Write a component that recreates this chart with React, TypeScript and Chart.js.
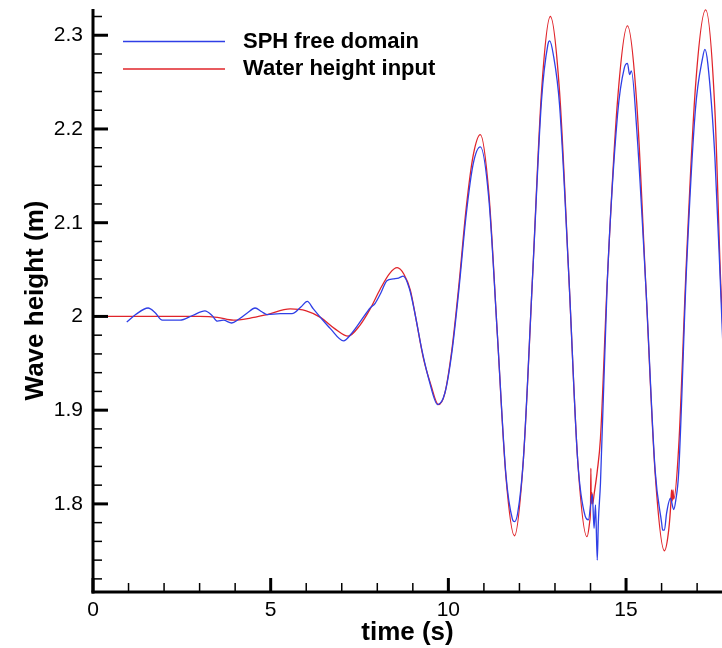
import { useEffect, useRef } from "react";
import { Chart, registerables } from "chart.js";

Chart.register(...registerables);

// ---------- data ----------
const timeInput = [0, 1, 2, 3, 3.5, 3.95, 4.4, 4.9, 5.55, 6.0, 6.4, 6.8, 7.18, 7.5, 7.8, 8.08, 8.35, 8.56, 8.75, 8.93, 9.1, 9.3, 9.5, 9.72, 9.9, 10.1, 10.3, 10.5, 10.7, 10.9, 11.14, 11.38, 11.62, 11.86, 12.11, 12.37, 12.62, 12.87, 13.13, 13.39, 13.64, 13.9, 13.98, 14.0, 14.01, 14.02, 14.04, 14.06, 14.1, 14.19, 14.28, 14.47, 14.76, 15.04, 15.3, 15.56, 15.82, 16.08, 16.2, 16.26, 16.28, 16.3, 16.32, 16.34, 16.48, 16.7, 16.95, 17.24, 17.5, 17.66, 17.8];
const waterInput = [2.0, 2.0, 2.0, 2.0, 1.999, 1.996, 1.998, 2.002, 2.008, 2.006, 1.999, 1.987, 1.979, 1.99, 2.008, 2.029, 2.046, 2.052, 2.045, 2.028, 1.995, 1.955, 1.928, 1.906, 1.918, 1.965, 2.035, 2.115, 2.172, 2.194, 2.131, 1.98, 1.829, 1.766, 1.847, 2.043, 2.239, 2.32, 2.239, 2.043, 1.846, 1.765, 1.782, 1.795, 1.838, 1.8, 1.812, 1.8, 1.81, 1.835, 1.87, 2.037, 2.23, 2.31, 2.228, 2.03, 1.832, 1.75, 1.772, 1.8, 1.815, 1.803, 1.815, 1.805, 1.86, 2.06, 2.243, 2.327, 2.22, 2.04, 1.93];

const timeSph = [0.95, 1.2, 1.55, 1.75, 1.95, 2.2, 2.45, 2.8, 3.15, 3.35, 3.5, 3.67, 3.9, 4.1, 4.35, 4.56, 4.75, 4.9, 5.27, 5.6, 5.85, 6.03, 6.2, 6.4, 6.68, 7.05, 7.3, 7.55, 7.8, 7.94, 8.1, 8.27, 8.45, 8.6, 8.73, 8.9, 9.05, 9.25, 9.45, 9.7, 9.9, 10.1, 10.3, 10.5, 10.7, 10.9, 11.14, 11.38, 11.62, 11.8, 11.86, 11.95, 12.11, 12.37, 12.62, 12.8, 12.85, 12.95, 13.13, 13.39, 13.64, 13.85, 13.94, 14.05, 14.1, 14.14, 14.19, 14.22, 14.28, 14.47, 14.76, 14.95, 15.04, 15.1, 15.15, 15.3, 15.56, 15.82, 16.0, 16.03, 16.08, 16.14, 16.25, 16.34, 16.4, 16.48, 16.7, 16.95, 17.15, 17.22, 17.3, 17.5, 17.66, 17.8];
const sphFree = [1.994, 2.002, 2.009, 2.004, 1.996, 1.996, 1.996, 2.001, 2.006, 2.001, 1.995, 1.996, 1.993, 1.997, 2.004, 2.009, 2.005, 2.002, 2.003, 2.003, 2.01, 2.016, 2.008, 1.999, 1.987, 1.974, 1.983, 1.996, 2.009, 2.014, 2.025, 2.038, 2.04, 2.041, 2.043, 2.03, 2.005, 1.965, 1.933, 1.906, 1.918, 1.962, 2.03, 2.108, 2.163, 2.181, 2.125, 1.98, 1.831, 1.784, 1.781, 1.79, 1.847, 2.043, 2.23, 2.29, 2.294, 2.28, 2.225, 2.043, 1.846, 1.787, 1.783, 1.81, 1.774, 1.799, 1.74, 1.78, 1.822, 2.035, 2.215, 2.265, 2.27, 2.258, 2.262, 2.2, 2.03, 1.835, 1.78, 1.772, 1.772, 1.79, 1.806, 1.794, 1.804, 1.833, 2.05, 2.22, 2.275, 2.285, 2.27, 2.17, 2.03, 1.9];

const xMajorTicks = [0, 5, 10, 15];
const yMajorTicks = [1.8, 1.9, 2.0, 2.1, 2.2, 2.3];
const seriesLabels = ["SPH free domain", "Water height input"];

// ---------- style ----------
const FONT = "'Liberation Sans', Arial, Helvetica, sans-serif";
const BLUE = "#2f3fe6";
const RED = "#e0242a";

const axesPlugin = {
  id: "tecAxes",
  afterDatasetsDraw(chart: any) {
    const { ctx, chartArea, scales } = chart;
    const xs = scales.x;
    const ys = scales.y;
    const left = chartArea.left;
    const bottom = chartArea.bottom;
    ctx.save();
    ctx.strokeStyle = "#000";
    ctx.lineCap = "butt";
    const seg = (x1: number, y1: number, x2: number, y2: number) => {
      ctx.beginPath();
      ctx.moveTo(x1, y1);
      ctx.lineTo(x2, y2);
      ctx.stroke();
    };
    // minor ticks
    ctx.lineWidth = 1.5;
    for (let i = 1; i <= 17; i++) {
      if (i % 5 === 0) continue;
      const px = xs.getPixelForValue(i);
      if (px > chartArea.right) continue;
      seg(px, bottom, px, bottom - 9);
    }
    for (let i = 86; i <= 116; i++) {
      if (i % 5 === 0) continue;
      const v = i * 0.02;
      const py = ys.getPixelForValue(v);
      if (py < chartArea.top || py > bottom) continue;
      seg(left, py, left + 9, py);
    }
    // major ticks
    ctx.lineWidth = 3;
    for (const v of xMajorTicks) {
      const px = xs.getPixelForValue(v);
      seg(px, bottom, px, bottom - 14);
    }
    for (const v of yMajorTicks) {
      const py = ys.getPixelForValue(v);
      seg(left, py, left + 15, py);
    }
    // axis lines
    ctx.lineWidth = 3;
    seg(left, chartArea.top, left, bottom + 1.5);
    seg(left - 1.5, bottom, chartArea.right, bottom);
    ctx.restore();
  },
  afterDraw(chart: any) {
    const { ctx } = chart;
    const ds = chart.data.datasets;
    ctx.save();
    const rows = [41.5, 69];
    rows.forEach((y, i) => {
      ctx.strokeStyle = ds[i].borderColor;
      ctx.lineWidth = 1.3;
      ctx.beginPath();
      ctx.moveTo(123, y);
      ctx.lineTo(225, y);
      ctx.stroke();
      ctx.fillStyle = "#000";
      ctx.font = `bold 22px ${FONT}`;
      ctx.textBaseline = "middle";
      ctx.textAlign = "left";
      ctx.fillText(ds[i].label, 243, y);
    });
    ctx.restore();
  },
};

export default function App() {
  const ref = useRef<HTMLCanvasElement | null>(null);

  useEffect(() => {
    if (!ref.current) return;
    const chart = new Chart(ref.current, {
      type: "line",
      data: {
        datasets: [
          {
            label: seriesLabels[0],
            data: timeSph.map((t, i) => ({ x: t, y: sphFree[i] })),
            borderColor: BLUE,
            borderWidth: 1.3,
            pointRadius: 0,
            fill: false,
            cubicInterpolationMode: "monotone",
          },
          {
            label: seriesLabels[1],
            data: timeInput.map((t, i) => ({ x: t, y: waterInput[i] })),
            borderColor: RED,
            borderWidth: 1.3,
            pointRadius: 0,
            fill: false,
            cubicInterpolationMode: "monotone",
          },
        ],
      },
      options: {
        responsive: false,
        animation: false,
        layout: { padding: { top: 9, right: 0, left: 0, bottom: 0 } },
        plugins: { legend: { display: false }, tooltip: { enabled: false } },
        scales: {
          x: {
            type: "linear",
            min: 0,
            max: 17.7,
            grid: { display: false, drawTicks: false },
            border: { display: false },
            ticks: {
              font: { family: FONT, size: 21 },
              color: "#000",
              padding: 6,
              maxRotation: 0,
              autoSkip: false,
              callback: (v: any) => String(v),
            },
            afterBuildTicks: (s: any) => {
              s.ticks = xMajorTicks.map((v) => ({ value: v }));
            },
            afterFit: (s: any) => {
              s.height = 56;
              s.paddingLeft = 0;
              s.paddingRight = 0;
            },
            title: {
              display: true,
              text: "time (s)",
              font: { family: FONT, size: 26, weight: "bold" },
              color: "#000",
              padding: 0,
            },
          },
          y: {
            type: "linear",
            min: 1.706,
            max: 2.328,
            grid: { display: false, drawTicks: false },
            border: { display: false },
            ticks: {
              font: { family: FONT, size: 21 },
              color: "#000",
              padding: 10,
              autoSkip: false,
              callback: (v: any) => String(Math.round(Number(v) * 10) / 10),
            },
            afterBuildTicks: (s: any) => {
              s.ticks = yMajorTicks.map((v) => ({ value: v }));
            },
            afterFit: (s: any) => {
              s.width = 93;
              s.paddingTop = 0;
              s.paddingBottom = 0;
            },
            title: {
              display: true,
              text: "Wave height (m)",
              font: { family: FONT, size: 26, weight: "bold" },
              color: "#000",
              padding: { top: 20, bottom: 0 },
            },
          },
        },
      },
      plugins: [axesPlugin],
    });
    return () => chart.destroy();
  }, []);

  return (
    <div style={{ position: "absolute", left: 0, top: 0, width: 722, height: 648, background: "#fff" }}>
      <canvas ref={ref} width={722} height={648} />
    </div>
  );
}
